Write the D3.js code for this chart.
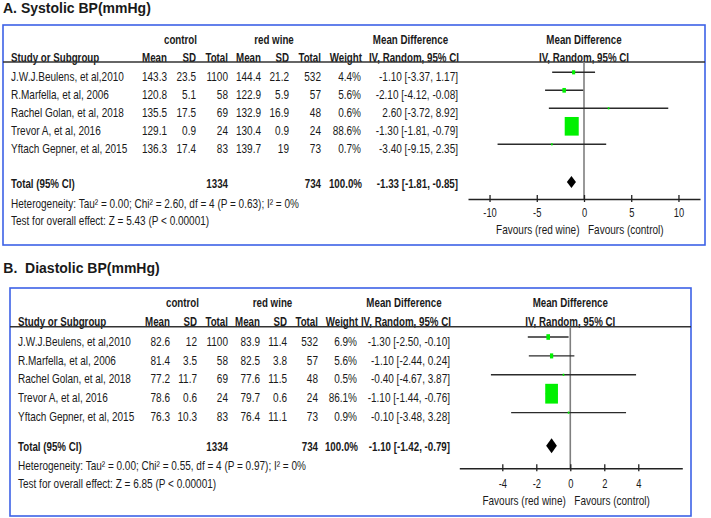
<!DOCTYPE html>
<html>
<head>
<meta charset="utf-8">
<script src="https://cdn.jsdelivr.net/npm/d3@7"></script>
<style>
  html, body { margin: 0; padding: 0; background: #fff; }
  svg { display: block; }
  text { font-family: "Liberation Sans", Arial, sans-serif; fill: #1a1a1a; white-space: pre; }
</style>
</head>
<body>
<svg id="chart" width="711" height="518"></svg>
<script>
// ---------------- DATA ----------------
const studies = ["J.W.J.Beulens, et al,2010", "R.Marfella, et al, 2006", "Rachel Golan, et al, 2018", "Trevor A, et al, 2016", "Yftach Gepner, et al, 2015"];

// A. Systolic BP
const sbpCtrlMean = [143.3, 120.8, 135.5, 129.1, 136.3];
const sbpCtrlSD   = [23.5, 5.1, 17.5, 0.9, 17.4];
const sbpCtrlN    = [1100, 58, 69, 24, 83];
const sbpWineMean = [144.4, 122.9, 132.9, 130.4, 139.7];
const sbpWineSD   = [21.2, 5.9, 16.9, 0.9, 19];
const sbpWineN    = [532, 57, 48, 24, 73];
const sbpWeight   = [4.4, 5.6, 0.6, 88.6, 0.7];
const sbpMD       = [-1.10, -2.10, 2.60, -1.30, -3.40];
const sbpLo       = [-3.37, -4.12, -3.72, -1.81, -9.15];
const sbpHi       = [1.17, -0.08, 8.92, -0.79, 2.35];
const sbpTotal    = [-1.33, -1.81, -0.85];   // md, lo, hi
const sbpTotalN   = [1334, 734];
const sbpHet      = "Heterogeneity: Tau\u00B2 = 0.00; Chi\u00B2 = 2.60, df = 4 (P = 0.63); I\u00B2 = 0%";
const sbpTest     = "Test for overall effect: Z = 5.43 (P < 0.00001)";
const sbpTicks    = [-10, -5, 0, 5, 10];

// B. Diastolic BP
const dbpCtrlMean = [82.6, 81.4, 77.2, 78.6, 76.3];
const dbpCtrlSD   = [12, 3.5, 11.7, 0.6, 10.3];
const dbpCtrlN    = [1100, 58, 69, 24, 83];
const dbpWineMean = [83.9, 82.5, 77.6, 79.7, 76.4];
const dbpWineSD   = [11.4, 3.8, 11.5, 0.6, 11.1];
const dbpWineN    = [532, 57, 48, 24, 73];
const dbpWeight   = [6.9, 5.6, 0.5, 86.1, 0.9];
const dbpMD       = [-1.30, -1.10, -0.40, -1.10, -0.10];
const dbpLo       = [-2.50, -2.44, -4.67, -1.44, -3.48];
const dbpHi       = [-0.10, 0.24, 3.87, -0.76, 3.28];
const dbpTotal    = [-1.10, -1.42, -0.79];
const dbpTotalN   = [1334, 734];
const dbpHet      = "Heterogeneity: Tau\u00B2 = 0.00; Chi\u00B2 = 0.55, df = 4 (P = 0.97); I\u00B2 = 0%";
const dbpTest     = "Test for overall effect: Z = 6.85 (P < 0.00001)";
const dbpTicks    = [-4, -2, 0, 2, 4];

// ---------------- LAYOUT ----------------
const FS = 13;      // table font size
const SX = 0.77;    // horizontal condensing (regular) to imitate a narrow face
const SXB = 0.75;   // horizontal condensing (bold)
const panels = [
  {
    title: "A. Systolic BP(mmHg)", titleX: 3, titleY: 8.3,
    box: [3, 25, 705, 245],
    grpY: 39, hdrY: 57, lineY: 62,
    row0: 76.3, rowStep: 18, totalY: 183, hetY: 203, testY: 220,
    cols: { study: 11, cm: 167, csd: 196, cn: 228, wm: 261, wsd: 289, wn: 321, w: 361, ci: 458 },
    ctrlHdrX: 180.5, wineHdrX: 274, mdHdrX: 410.5,
    axisY: 199, range: [468, 700], domain: [-12.28, 12.28], tickLblY: 212, favY: 229,
    mk: [1.49, 1.98], diamondH: 12,
    d: { cm: sbpCtrlMean, csd: sbpCtrlSD, cn: sbpCtrlN, wm: sbpWineMean, wsd: sbpWineSD, wn: sbpWineN,
         w: sbpWeight, md: sbpMD, lo: sbpLo, hi: sbpHi, tot: sbpTotal, totN: sbpTotalN,
         het: sbpHet, test: sbpTest, ticks: sbpTicks }
  },
  {
    title: "B.  Diastolic BP(mmHg)", titleX: 3.3, titleY: 267.5,
    box: [10, 288, 691, 516],
    grpY: 302.7, hdrY: 321.7, lineY: 326.7,
    row0: 341, rowStep: 18.9, totalY: 446.7, hetY: 465, testY: 483,
    cols: { study: 18, cm: 170, csd: 197, cn: 228, wm: 260, wsd: 287, wn: 318, w: 357, ci: 450 },
    ctrlHdrX: 182.5, wineHdrX: 272.5, mdHdrX: 404,
    axisY: 468.3, range: [459.3, 682.3], domain: [-6.53, 6.59], tickLblY: 483, favY: 500,
    mk: [1.37, 2.13], diamondH: 15,
    d: { cm: dbpCtrlMean, csd: dbpCtrlSD, cn: dbpCtrlN, wm: dbpWineMean, wsd: dbpWineSD, wn: dbpWineN,
         w: dbpWeight, md: dbpMD, lo: dbpLo, hi: dbpHi, tot: dbpTotal, totN: dbpTotalN,
         het: dbpHet, test: dbpTest, ticks: dbpTicks }
  }
];

const svg = d3.select("#chart");

function T(g, x, y, s, o = {}) {
  const sx = o.sx ?? (o.bold ? SXB : SX);
  return g.append("text")
    .attr("transform", `translate(${x},${y}) scale(${sx},1)`)
    .attr("dy", "0.36em")
    .attr("text-anchor", o.anchor || "start")
    .attr("font-size", o.size || FS)
    .attr("font-weight", o.bold ? "bold" : null)
    .text(s);
}
const f2 = v => v.toFixed(2);
const ciText = (m, l, h) => `${f2(m)} [${f2(l)}, ${f2(h)}]`;

panels.forEach(p => {
  const g = svg.append("g");
  const c = p.cols, d = p.d;

  // title
  T(g, p.titleX, p.titleY, p.title, { sx: 1, size: 14, bold: true });

  // frame
  g.append("rect")
    .attr("x", p.box[0]).attr("y", p.box[1])
    .attr("width", p.box[2] - p.box[0]).attr("height", p.box[3] - p.box[1])
    .attr("fill", "none").attr("stroke", "#3d62e6").attr("stroke-width", 1.6);

  const x = d3.scaleLinear().domain(p.domain).range(p.range);
  const x0 = x(0);

  // headers
  T(g, p.ctrlHdrX, p.grpY, "control", { anchor: "middle", bold: true });
  T(g, p.wineHdrX, p.grpY, "red wine", { anchor: "middle", bold: true });
  T(g, p.mdHdrX, p.grpY, "Mean Difference", { anchor: "middle", bold: true });
  T(g, x0, p.grpY, "Mean Difference", { anchor: "middle", bold: true });

  T(g, c.study, p.hdrY, "Study or Subgroup", { bold: true });
  T(g, c.cm, p.hdrY, "Mean", { anchor: "end", bold: true });
  T(g, c.csd, p.hdrY, "SD", { anchor: "end", bold: true });
  T(g, c.cn, p.hdrY, "Total", { anchor: "end", bold: true });
  T(g, c.wm, p.hdrY, "Mean", { anchor: "end", bold: true });
  T(g, c.wsd, p.hdrY, "SD", { anchor: "end", bold: true });
  T(g, c.wn, p.hdrY, "Total", { anchor: "end", bold: true });
  T(g, c.w + 1, p.hdrY, "Weight", { anchor: "end", bold: true });
  T(g, c.ci + 1, p.hdrY, "IV, Random, 95% CI", { anchor: "end", bold: true });
  T(g, x0, p.hdrY, "IV, Random, 95% CI", { anchor: "middle", bold: true });

  g.append("line")
    .attr("x1", p.box[0]).attr("x2", p.box[2])
    .attr("y1", p.lineY).attr("y2", p.lineY)
    .attr("stroke", "#333").attr("stroke-width", 1.6);

  // rows
  const y = i => p.row0 + i * p.rowStep;
  studies.forEach((s, i) => {
    T(g, c.study, y(i), s);
    T(g, c.cm, y(i), String(d.cm[i]), { anchor: "end" });
    T(g, c.csd, y(i), String(d.csd[i]), { anchor: "end" });
    T(g, c.cn, y(i), String(d.cn[i]), { anchor: "end" });
    T(g, c.wm, y(i), String(d.wm[i]), { anchor: "end" });
    T(g, c.wsd, y(i), String(d.wsd[i]), { anchor: "end" });
    T(g, c.wn, y(i), String(d.wn[i]), { anchor: "end" });
    T(g, c.w, y(i), d.w[i].toFixed(1) + "%", { anchor: "end" });
    T(g, c.ci, y(i), ciText(d.md[i], d.lo[i], d.hi[i]), { anchor: "end" });
  });

  // totals
  T(g, c.study, p.totalY, "Total (95% CI)", { bold: true });
  T(g, c.cn, p.totalY, String(d.totN[0]), { anchor: "end", bold: true });
  T(g, c.wn, p.totalY, String(d.totN[1]), { anchor: "end", bold: true });
  T(g, c.w + 1, p.totalY, "100.0%", { anchor: "end", bold: true });
  T(g, c.ci, p.totalY, ciText(d.tot[0], d.tot[1], d.tot[2]), { anchor: "end", bold: true });
  T(g, c.study, p.hetY, d.het);
  T(g, c.study, p.testY, d.test);

  // zero line
  g.append("line")
    .attr("x1", x0).attr("x2", x0)
    .attr("y1", p.lineY).attr("y2", p.axisY)
    .attr("stroke", "#7f7f7f").attr("stroke-width", 1.6);

  // CI lines & markers
  const py = i => y(i) - 4;
  g.selectAll(null).data(studies).join("line")
    .attr("x1", (s, i) => x(d.lo[i])).attr("x2", (s, i) => x(d.hi[i]))
    .attr("y1", (s, i) => py(i)).attr("y2", (s, i) => py(i))
    .attr("stroke", "#2b2b2b").attr("stroke-width", 1.4);
  g.selectAll(null).data(studies).join("rect")
    .each(function (s, i) {
      const w = Math.max(1.6, p.mk[0] * Math.sqrt(d.w[i]));
      const h = Math.max(2.2, p.mk[1] * Math.sqrt(d.w[i]));
      d3.select(this)
        .attr("x", x(d.md[i]) - w / 2).attr("y", py(i) - h / 2)
        .attr("width", w).attr("height", h);
    })
    .attr("fill", "#00f000");

  // diamond
  const dy = p.totalY - 1, dh = p.diamondH / 2;
  g.append("path")
    .attr("d", `M${x(d.tot[1])},${dy} L${x(d.tot[0])},${dy - dh} L${x(d.tot[2])},${dy} L${x(d.tot[0])},${dy + dh} Z`)
    .attr("fill", "#000");

  // axis
  const ax = g.append("g").attr("transform", `translate(0,${p.axisY})`)
    .call(d3.axisBottom(x).tickValues(d.ticks).tickSize(3).tickSizeOuter(0).tickFormat(v => String(v)));
  ax.attr("font-family", null).attr("font-size", null);
  ax.select(".domain").attr("stroke", "#222").attr("stroke-width", 1.6);
  ax.selectAll(".tick line").attr("y1", -4).attr("y2", 3).attr("stroke", "#222").attr("stroke-width", 1.3);
  ax.selectAll(".tick text")
    .attr("y", p.tickLblY - p.axisY).attr("dy", "0.36em")
    .attr("transform", `scale(0.72,1)`)
    .attr("font-size", FS).attr("fill", "#1a1a1a");

  T(g, x0 - 4.5, p.favY, "Favours (red wine)", { anchor: "end" });
  T(g, x0 + 4, p.favY, "Favours (control)", { anchor: "start" });
});
</script>
</body>
</html>
